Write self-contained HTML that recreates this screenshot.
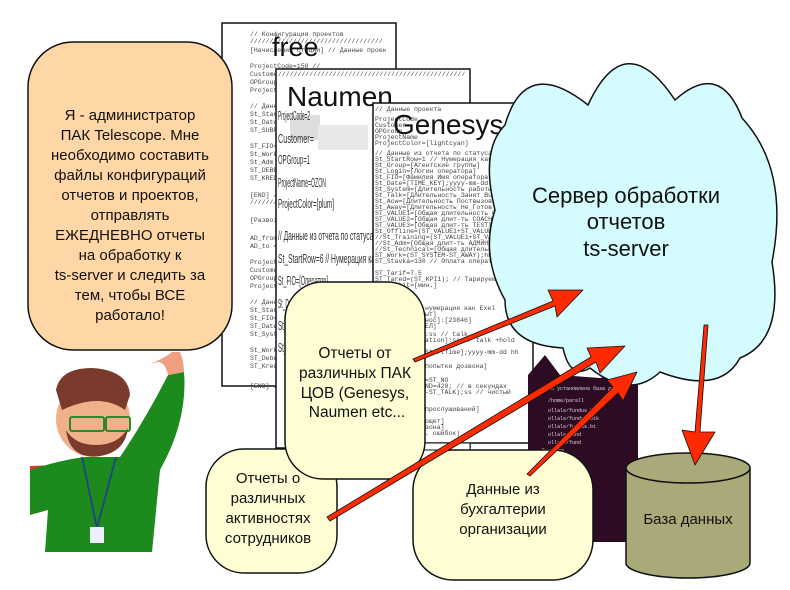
<!DOCTYPE html>
<html><head><meta charset="utf-8"><style>
html,body{margin:0;padding:0;background:#fff;}
svg{display:block;}
.m{font-family:"Liberation Mono",monospace;font-size:6.5px;fill:#444;}
.n{font-family:"Liberation Sans Narrow","Liberation Sans",sans-serif;font-size:13px;fill:#333;}
.t{font-family:"Liberation Sans","DejaVu Sans",sans-serif;fill:#111;text-anchor:middle;}
</style></head><body>
<svg width="790" height="590" viewBox="0 0 790 590" xmlns="http://www.w3.org/2000/svg">
<!-- doc1 free -->
<rect x="222" y="23" width="174" height="363" fill="#fff" stroke="#111" stroke-width="1.5"/>
<g class="m">
<text x="250" y="36">// Конфигурация проектов</text>
<text x="250" y="43">//////////////////////////////////</text>
<text x="250" y="52">[Начисления стации] // Данные проек</text>
<text x="250" y="68">ProjectCode=150 //</text><text x="250" y="76">Customer</text><text x="250" y="84">OPGroup</text><text x="250" y="92">Project</text>
<text x="250" y="108">// Данн</text><text x="250" y="116">St_Star</text><text x="250" y="124">St_Date</text><text x="250" y="132">ST_SUBR</text>
<text x="250" y="148">ST_FIO=</text><text x="250" y="156">St_Work</text><text x="250" y="164">St_Adm</text><text x="250" y="172">ST_DEBE</text><text x="250" y="180">ST_KRED</text>
<text x="250" y="197">[END] /</text><text x="250" y="204">///////</text><text x="250" y="222">[Развоз</text>
<text x="250" y="240">AD_from</text><text x="250" y="248">AD_to =</text>
<text x="250" y="264">Project</text><text x="250" y="272">Custome</text><text x="250" y="280">OPGroup</text><text x="250" y="288">Project</text>
<text x="250" y="304">// Данн</text><text x="250" y="312">St_Star</text><text x="250" y="320">St_FIO=</text><text x="250" y="328">ST_Date</text><text x="250" y="336">St_Syst</text>
<text x="250" y="352">St_Work</text><text x="250" y="360">ST_Debe</text><text x="250" y="368">ST_Kred</text><text x="250" y="388">[END] /</text>
</g>
<text x="272" y="56" font-family="Liberation Sans,sans-serif" font-size="27" fill="#111">free</text>
<!-- doc2 Naumen -->
<rect x="276" y="69" width="194" height="379" fill="#fff" stroke="#111" stroke-width="1.5"/>
<text x="278" y="76" class="m">////////////////////////////////////////////////</text>
<rect x="290" y="115" width="30" height="25" fill="#ddd"/><rect x="318" y="125" width="50" height="25" fill="#e8e8e8"/>
<g class="n">
<text x="278" y="120" textLength="32" lengthAdjust="spacingAndGlyphs">ProjectCode=2</text>
<text x="278" y="143" textLength="36" lengthAdjust="spacingAndGlyphs">Customer=</text>
<text x="278" y="164" textLength="32" lengthAdjust="spacingAndGlyphs">OPGroup=1</text>
<text x="278" y="187" textLength="48" lengthAdjust="spacingAndGlyphs">ProjectName=OZON</text>
<text x="278" y="208" textLength="56" lengthAdjust="spacingAndGlyphs">ProjectColor=[plum]</text>
<text x="278" y="212" textLength="0" lengthAdjust="spacingAndGlyphs"></text>
<text x="278" y="213" style="display:none">x</text>
<text x="278" y="212" visibility="hidden">x</text>
<text x="278" y="212" visibility="hidden">x</text>
<text x="278" y="211" visibility="hidden">x</text>
<text x="278" y="212" visibility="hidden">x</text>
<text x="278" y="212" visibility="hidden">x</text>
<text x="278" y="212" visibility="hidden">x</text>
<text x="278" y="212" visibility="hidden">x</text>
<text x="278" y="212" visibility="hidden">x</text>
<text x="278" y="240" textLength="100" lengthAdjust="spacingAndGlyphs">// Данные из отчета по статусам</text>
<text x="278" y="263" textLength="100" lengthAdjust="spacingAndGlyphs">St_StartRow=6 // Нумерация как</text>
<text x="278" y="285" textLength="50" lengthAdjust="spacingAndGlyphs">St_FIO=[Оператор]</text>
<text x="278" y="308" textLength="30" lengthAdjust="spacingAndGlyphs">St_Date=(B3)</text>
<text x="278" y="330" textLength="100" lengthAdjust="spacingAndGlyphs">St_System=[Суммарное время раб</text>
<text x="278" y="352" textLength="20" lengthAdjust="spacingAndGlyphs">St_Talk</text>
</g>
<text x="287" y="106" font-family="Liberation Sans,sans-serif" font-size="28" fill="#111">Naumen</text>
<!-- doc3 Genesys -->
<rect x="373" y="103" width="160" height="340" fill="#fff" stroke="#111" stroke-width="1.5"/>
<rect x="400" y="443" width="70" height="7" fill="#fff" stroke="#111" stroke-width="1"/>
<g class="m" font-size="5">
<text x="375" y="111">// Данные проекта</text><text x="375" y="121">ProjectCode</text><text x="375" y="127">Customer</text><text x="375" y="133">OPGroup</text><text x="375" y="139">ProjectName</text><text x="375" y="145">ProjectColor=[lightcyan]</text>
<text x="375" y="155">// Данные из отчета по статусам</text><text x="375" y="161">St_StartRow=1 // Нумерация как Exel. Строка</text><text x="375" y="167">St_Group=[Агентские группы]</text><text x="375" y="173">St_Login=[Логин оператора]</text><text x="375" y="179">St_FIO=[Фамилия Имя оператора]</text><text x="375" y="185">St_Date=[TIME_KEY];yyyy-mm-dd</text>
<text x="375" y="191">St_System=[Длительность работы в системе</text><text x="375" y="197">St_Talk=[Длительность Занят Busy по Info</text><text x="375" y="203">St_Acw=[Длительность Поствызова по DataMa</text><text x="375" y="209">St_Away=[Длительность Не_Готов NotReady</text><text x="375" y="215">ST_VALUE1=[Общая длительность Обучение]</text><text x="375" y="221">ST_VALUE2=[Общая длит-ть COACHING];hh:mm</text><text x="375" y="227">ST_VALUE3=[Общая длит-ть TESTING];hh:mm</text><text x="375" y="233">St_Offline=(ST_VALUE1+ST_VALUE2+ST_VAL</text><text x="375" y="239">//St_Training=(ST_VALUE1+ST_VALUE2+ST_</text><text x="375" y="245">//St_Adm=[Общая длит-ть АДМИНВЕНК];hh</text><text x="375" y="251">//St_Technical=[Общая длительность Тех</text><text x="375" y="257">ST_Work=(ST_SYSTEM-ST_AWAY);hh:mm:ss</text><text x="375" y="263">ST_Stavka=130 // Оплата операторам</text>
<text x="375" y="275">ST_Tarif=7.5</text><text x="375" y="281">ST_Tared=(ST_KPI1); // Тарируемое время</text><text x="375" y="287">ST_Tarbit=[мин.]</text>
<text x="425" y="310">нумерация как Exel</text><text x="425" y="316">ыт]</text><text x="425" y="322">нос]:[23846]</text><text x="425" y="328">ЕЛ]</text><text x="425" y="336">:ss // talk</text><text x="425" y="342">ation]:ss // talk +hold</text><text x="425" y="354">StartTime];yyyy-mm-dd hh</text><text x="425" y="368">попытки дозвона]</text><text x="425" y="382">=ST_NO</text><text x="425" y="388">ND=420; // в секундах</text><text x="425" y="394">-ST_TALK);ss // чистый</text>
<text x="425" y="411">прослушиваний]</text><text x="425" y="423">ощет]</text><text x="425" y="429">зона]</text><text x="425" y="435">. ошибок)</text>
</g>
<text x="393" y="134" font-family="Liberation Sans,sans-serif" font-size="28" fill="#111">Genesys</text>
<!-- terminal -->
<path d="M528 542 L528 375 L545 355 L560 375 L600 378 L638 372 L638 542 Z" fill="#2d0b24"/>
<g font-family="Liberation Mono,monospace" font-size="5" fill="#ddd">
<text x="548" y="390">Не установлена база данн</text><text x="548" y="402">/home/parall</text><text x="548" y="412">ollals/fundus.bt</text><text x="548" y="420">ollals/fundus.btk</text><text x="548" y="428">ollals/fundus.bt</text><text x="548" y="436">ollals/fund</text><text x="548" y="444">ollals/fund</text><text x="540" y="452">/home/pa</text>
</g>
<!-- cloud -->
<path d="M505 125 Q525 55 588 105 Q625 25 675 100 Q720 60 742 118 Q790 170 772 262 Q785 340 740 358 Q720 395 660 372 Q630 400 590 368 Q570 380 563 348 Q505 345 505 300 Q480 255 495 210 Q480 150 505 125 Z" fill="#d4fcff" stroke="#111" stroke-width="1.5"/>
<text class="t" font-size="22" x="626" y="203">Сервер обработки</text>
<text class="t" font-size="22" x="626" y="229">отчетов</text>
<text class="t" font-size="22" x="626" y="256">ts-server</text>
<!-- DB -->
<path d="M626 468 L626 563 A62 15 0 0 0 750 563 L750 468" fill="#aaa97a" stroke="#111" stroke-width="1.5"/>
<ellipse cx="688" cy="468" rx="62" ry="15" fill="#aaa97a" stroke="#111" stroke-width="1.5"/>
<text class="t" font-size="15" x="688" y="524">База данных</text>
<!-- person box -->
<rect x="28" y="42" width="204" height="308" rx="45" fill="#ffd6a5" stroke="#111" stroke-width="1.5"/>
<g class="t" font-size="15">
<text x="130" y="120">Я - администратор</text><text x="130" y="140">ПАК Telescope. Мне</text><text x="130" y="160">необходимо составить</text><text x="130" y="180">файлы конфигураций</text><text x="130" y="200">отчетов и проектов,</text><text x="130" y="220">отправлять</text><text x="130" y="240">ЕЖЕДНЕВНО отчеты</text><text x="130" y="260">на обработку к</text><text x="130" y="280">ts-server и следить за</text><text x="130" y="300">тем, чтобы ВСЕ</text><text x="130" y="320">работало!</text>
</g>
<!-- person -->
<path d="M30 466 L58 465 L48 505 L30 512 Z" fill="#d73b30"/>
<path d="M30 470 Q60 460 85 457 L120 457 Q145 420 168 375 L184 372 Q188 420 160 470 L152 552 L45 552 L48 510 L30 515 Z" fill="#1c8a1c"/>
<path d="M168 375 Q165 362 158 362 L150 364 Q165 358 172 352 L180 352 Q184 362 184 372 Z" fill="#f0a080"/>
<ellipse cx="93" cy="419" rx="37" ry="38" fill="#f0b08a"/>
<path d="M56 390 Q60 368 92 368 Q128 370 130 395 L125 410 Q100 392 62 410 Z" fill="#7a3a2c"/>
<path d="M66 430 Q70 460 100 456 Q125 452 128 428 Q118 445 96 445 Q75 445 66 430 Z" fill="#7a3a2c"/>
<rect x="70" y="417" width="34" height="14" rx="2" fill="none" stroke="#2a8a2a" stroke-width="2"/>
<rect x="106" y="417" width="24" height="14" rx="2" fill="none" stroke="#2a8a2a" stroke-width="2"/>
<path d="M82 457 L97 528 L116 457" fill="none" stroke="#1f4a80" stroke-width="2"/>
<rect x="90" y="527" width="14" height="16" fill="#eef"/>
<!-- small boxes -->
<rect x="206" y="449" width="131" height="124" rx="38" fill="#fffdd4" stroke="#111" stroke-width="1.5"/>
<g class="t" font-size="15"><text x="268" y="483">Отчеты о</text><text x="268" y="503">различных</text><text x="268" y="523">активностях</text><text x="268" y="543">сотрудников</text></g>
<rect x="285" y="282" width="140" height="197" rx="38" fill="#fffdd4" stroke="#111" stroke-width="1.5"/>
<g class="t" font-size="15.5"><text x="355" y="358">Отчеты от</text><text x="355" y="378">различных ПАК</text><text x="355" y="398">ЦОВ (Genesys,</text><text x="357" y="417">Naumen etc...</text></g>
<rect x="413" y="450" width="180" height="130" rx="40" fill="#fffdd4" stroke="#111" stroke-width="1.5"/>
<g class="t" font-size="15"><text x="503" y="494">Данные из</text><text x="503" y="514">бухгалтерии</text><text x="503" y="534">организации</text></g>
<!-- arrows -->
<g fill="#ff2a00" stroke="#111" stroke-width="0.8" stroke-linejoin="round">
<path d="M413 359 L553 301 L548 290 L583 290 L557 317 L555 306 L415 362 Z"/>
<path d="M327 517 L591 357 L587 348 L625 346 L600 373 L596 362 L330 521 Z"/>
<path d="M527 474 L613 387 L607 380 L637 372 L623 401 L618 393 L530 476 Z"/>
<path d="M708 325 L700 432 L715 432 L695 465 L682 430 L695 432 L704 325 Z"/>
</g>
</svg>
</body></html>
